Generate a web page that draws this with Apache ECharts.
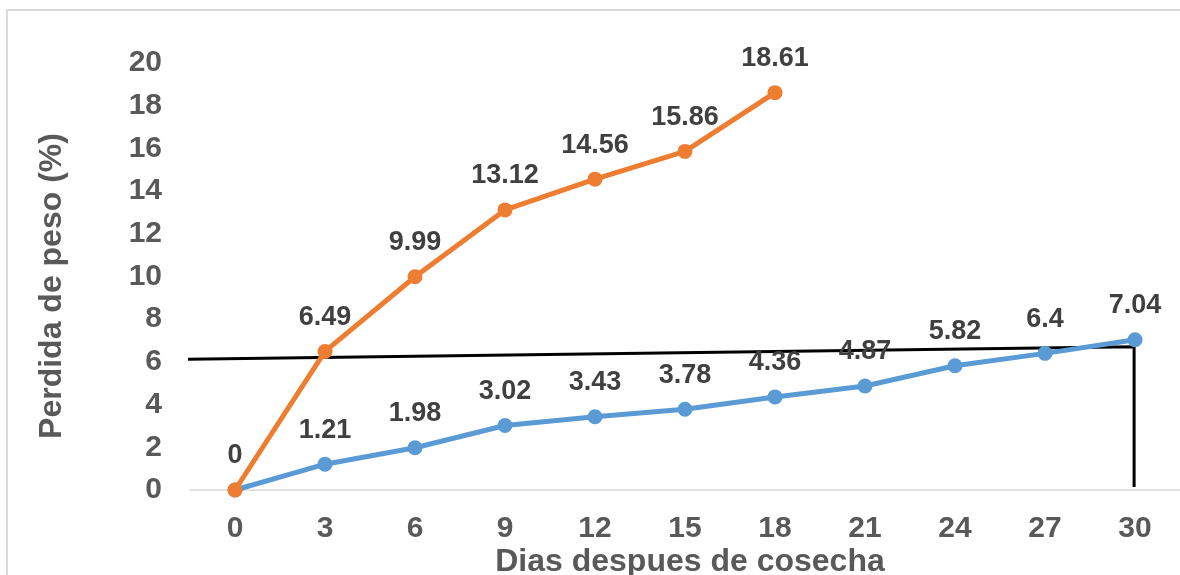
<!DOCTYPE html>
<html>
<head>
<meta charset="utf-8">
<script src="https://cdn.jsdelivr.net/npm/echarts@6/dist/echarts.min.js"></script>
<style>
  html, body { margin: 0; padding: 0; background: #fff; }
  #chart { width: 1180px; height: 575px; }
</style>
</head>
<body>
<div id="chart"></div>
<script>
// Days after harvest (category axis)
const dias = ['0', '3', '6', '9', '12', '15', '18', '21', '24', '27', '30'];
// Weight loss (%) per treatment
const perdidaAzul = [0, 1.21, 1.98, 3.02, 3.43, 3.78, 4.36, 4.87, 5.82, 6.4, 7.04];
const perdidaNaranja = [0, 6.49, 9.99, 13.12, 14.56, 15.86, 18.61];
// Y-axis scale
const yMin = 0, yMax = 20, yStep = 2;
// Reference guide line, in [category index, % loss]
const guia = [[-0.544, 6.12], [9.99, 6.71], [9.99, 0.14]];

const FONT = '"Liberation Sans", Arial, sans-serif';
const chart = echarts.init(document.getElementById('chart'));

const labelStyle = {
  show: true,
  position: 'top',
  distance: 13,
  color: '#404040',
  fontSize: 27,
  fontWeight: 'bold',
  fontFamily: FONT
};
const titleStyle = { fill: '#595959', fontSize: 32, fontWeight: 'bold', fontFamily: FONT };

chart.setOption({
  animation: false,
  backgroundColor: '#fff',
  graphic: [{
    // chart frame
    type: 'rect',
    shape: { x: 7, y: 10, width: 1200, height: 620 },
    style: { fill: 'none', stroke: '#d9d9d9', lineWidth: 2 },
    silent: true,
    z: -10
  }, {
    // x-axis title
    type: 'text',
    x: 690, y: 562,
    style: Object.assign({ text: 'Dias despues de cosecha', align: 'center', verticalAlign: 'middle' }, titleStyle)
  }, {
    // y-axis title
    type: 'text',
    x: 52, y: 286,
    rotation: Math.PI / 2,
    style: Object.assign({ text: 'Perdida de peso (%)', align: 'center', verticalAlign: 'middle' }, titleStyle)
  }],
  grid: { left: 190, top: 63, width: 992, height: 427, containLabel: false },
  xAxis: [{
    type: 'category',
    data: dias,
    boundaryGap: true,
    axisLine: { show: true, lineStyle: { color: '#d9d9d9', width: 1.5 } },
    axisTick: { show: false },
    axisLabel: { color: '#595959', fontSize: 30, fontWeight: 'bold', fontFamily: FONT, margin: 24 },
    splitLine: { show: false }
  }, {
    // hidden numeric twin of the category axis, used by the guide line
    type: 'value',
    min: -0.5,
    max: dias.length - 0.5,
    show: false
  }],
  yAxis: {
    type: 'value',
    min: yMin,
    max: yMax,
    interval: yStep,
    axisLine: { show: false },
    axisTick: { show: false },
    splitLine: { show: false },
    axisLabel: { color: '#595959', fontSize: 30, fontWeight: 'bold', fontFamily: FONT, margin: 28 }
  },
  series: [{
    type: 'line',
    xAxisIndex: 1,
    data: guia,
    clip: false,
    symbol: 'none',
    lineStyle: { color: '#000', width: 3 },
    z: 1,
    silent: true
  }, {
    type: 'line',
    data: perdidaAzul.map((v, i) => i === 0 ? { value: v, label: { show: false } } : v),
    symbol: 'circle',
    symbolSize: 15,
    itemStyle: { color: '#5B9BD5' },
    lineStyle: { color: '#5B9BD5', width: 5 },
    label: labelStyle,
    z: 2
  }, {
    type: 'line',
    data: perdidaNaranja,
    symbol: 'circle',
    symbolSize: 15,
    itemStyle: { color: '#ED7D31' },
    lineStyle: { color: '#ED7D31', width: 5 },
    label: labelStyle,
    z: 3
  }]
});
</script>
</body>
</html>
